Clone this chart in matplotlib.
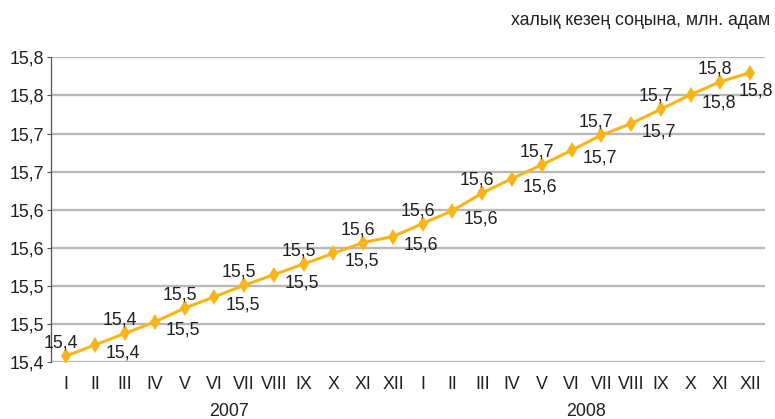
import numpy as np
import matplotlib.pyplot as plt

# population at end of period, mln people (monthly, 2007-2008)
months = ["I", "II", "III", "IV", "V", "VI", "VII", "VIII", "IX", "X", "XI", "XII"] * 2
years = ["2007", "2008"]
values = [15.408, 15.423, 15.438, 15.453, 15.471, 15.486, 15.501, 15.515,
          15.529, 15.543, 15.557, 15.565, 15.582, 15.599, 15.622, 15.641,
          15.659, 15.678, 15.698, 15.713, 15.732, 15.751, 15.768, 15.780]
yticks = [15.40, 15.45, 15.50, 15.55, 15.60, 15.65, 15.70, 15.75, 15.80]
ytick_labels = ["15,4", "15,5", "15,5", "15,6", "15,6", "15,7", "15,7", "15,8", "15,8"]
title = "халық кезең соңына, млн. адам"

plt.rcParams['font.family'] = ['Liberation Sans', 'DejaVu Sans']
text_color = '#231f20'
line_color = '#fbb416'
fs = 12.8

fig = plt.figure(figsize=(7.75, 4.19), dpi=100)
ax = fig.add_axes([0.0654, 0.1353, 0.9217, 0.7279])

x = np.arange(len(values))
ax.plot(x, values, color=line_color, lw=2.2, marker='d', ms=8, mew=0, zorder=3)

# data labels: odd months above, even months to the right-below
for i, v in enumerate(values):
    txt = f"{v:.1f}".replace('.', ',')
    if i % 2 == 0:
        off = (-5, 13)
    elif i == len(values) - 1:
        off = (6, -18)
    else:
        off = (28, -8)
    ax.annotate(txt, (i, v), xytext=off, textcoords='offset pixels',
                ha='center', va='center', fontsize=fs, color=text_color, zorder=4)

ax.set_xlim(-0.5, len(values) - 0.5)
ax.set_ylim(15.40, 15.80)
ax.set_yticks(yticks)
ax.set_yticklabels(ytick_labels)
ax.set_xticks(x)
ax.set_xticklabels(months)

ax.yaxis.grid(True, color='#b8b8b8', lw=1.7)
ax.set_axisbelow(True)
for s in ['top', 'right', 'bottom']:
    ax.spines[s].set_visible(False)
ax.spines['left'].set_color('#555555')
ax.spines['left'].set_linewidth(0.9)
ax.tick_params(axis='y', length=3, width=0.8, color='#555555', pad=2,
               labelsize=fs, labelcolor=text_color)
ax.tick_params(axis='x', length=0, pad=10, labelsize=fs, labelcolor=text_color)

# year labels under the month ticks
for j, yr in enumerate(years):
    ax.text(5.5 + 12 * j, -0.16, yr, transform=ax.get_xaxis_transform(),
            ha='center', va='center', fontsize=fs, color=text_color)

fig.text(0.994, 0.952, title, ha='right', va='center', fontsize=fs, color=text_color)

fig.savefig('out.png', dpi=100)
